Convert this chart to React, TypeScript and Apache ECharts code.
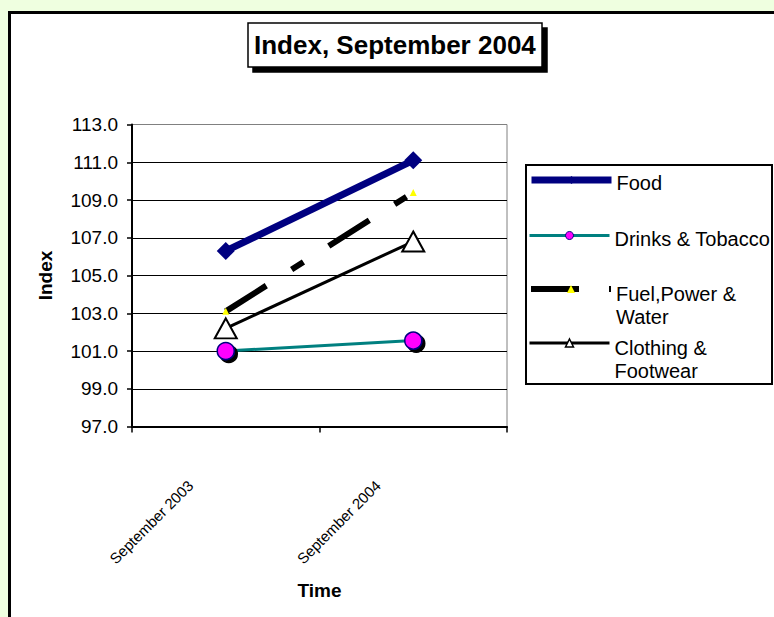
import React, { useEffect, useRef } from "react";
import * as echarts from "echarts";

const categories = ["September 2003", "September 2004"];
const food = [106.3, 111.1];
const drinksTobacco = [101.0, 101.55];
const fuelPowerWater = [103.1, 109.4];
const clothingFootwear = [102.2, 106.8];

const yMin = 97;
const yMax = 113;
const yStep = 2;

const seriesNames = ["Food", "Drinks & Tobacco", "Fuel,Power & Water", "Clothing & Footwear"];
const legendLabels = ["{s| }\nFood", "{s| }\nDrinks & Tobacco", "{g| }\nFuel,Power &\nWater", "{g| }\nClothing &\nFootwear"];

const FONT = "'Liberation Sans', Arial, Helvetica, sans-serif";

export default function App() {
  const ref = useRef<HTMLDivElement>(null);

  useEffect(() => {
    if (!ref.current) return;
    const chart = echarts.init(ref.current, undefined, { renderer: "svg" });

    const nLines = Math.round((yMax - yMin) / yStep) + 1;
    const splitColors = Array.from({ length: nLines }, (_, i) => (i === nLines - 1 ? "#808080" : "#000000"));

    const legendCommon = {
      orient: "vertical",
      left: 528,
      padding: 0,
      itemWidth: 80,
      itemHeight: 10,
      selectedMode: false,
    };
    const textCommon = {
      fontSize: 20,
      fontFamily: FONT,
      color: "#000",
      lineHeight: 23,
      rich: {
        s: { fontSize: 1, lineHeight: 6 },
        g: { fontSize: 1, lineHeight: 33 },
      },
    };

    chart.setOption({
      animation: false,
      title: {
        text: "Index, September 2004",
        left: 248,
        top: 23,
        padding: [9, 6, 9, 6],
        backgroundColor: "#ffffff",
        borderColor: "#000000",
        borderWidth: 1.5,
        shadowColor: "#000000",
        shadowBlur: 0,
        shadowOffsetX: 5,
        shadowOffsetY: 5,
        textStyle: { fontSize: 26, fontWeight: "bold", fontFamily: FONT, color: "#000" },
      },
      graphic: [
        {
          type: "rect",
          z: 0,
          shape: { x: 526, y: 165, width: 246, height: 219 },
          style: { fill: "#ffffff", stroke: "#000000", lineWidth: 2 },
        },
      ],
      legend: [
        {
          ...legendCommon,
          top: 165.5,
          data: [seriesNames[0]],
          formatter: legendLabels[0],
          lineStyle: { width: 7 },
          textStyle: textCommon,
        },
        {
          ...legendCommon,
          top: 221,
          data: [seriesNames[1]],
          formatter: legendLabels[1],
          lineStyle: { width: 3 },
          itemStyle: { borderWidth: 1 },
          textStyle: textCommon,
        },
        {
          ...legendCommon,
          top: 249.5,
          data: [seriesNames[2]],
          formatter: legendLabels[2],
          lineStyle: { width: 6 },
          textStyle: textCommon,
        },
        {
          ...legendCommon,
          top: 303.5,
          data: [seriesNames[3]],
          formatter: legendLabels[3],
          lineStyle: { width: 3 },
          itemStyle: { borderWidth: 1.5 },
          textStyle: textCommon,
        },
      ],
      grid: {
        left: 132,
        right: 267,
        top: 124.5,
        bottom: 190.5,
        show: true,
        borderColor: "#808080",
        borderWidth: 1,
        backgroundColor: "transparent",
      },
      xAxis: {
        type: "category",
        data: categories,
        boundaryGap: true,
        name: "Time",
        nameLocation: "middle",
        nameGap: 154,
        nameTextStyle: { fontSize: 19, fontWeight: "bold", fontFamily: FONT, color: "#000" },
        axisLine: { lineStyle: { color: "#000", width: 2 } },
        axisTick: { show: true, length: 6, lineStyle: { color: "#000", width: 1.5 } },
        axisLabel: {
          rotate: 45,
          margin: 21,
          interval: 0,
          fontSize: 15,
          fontFamily: FONT,
          color: "#000",
          padding: [0, 50, 0, 0],
        },
        splitLine: { show: false },
      },
      yAxis: {
        type: "value",
        min: yMin,
        max: yMax,
        interval: yStep,
        name: "Index",
        nameLocation: "middle",
        nameGap: 77,
        nameTextStyle: { fontSize: 19, fontWeight: "bold", fontFamily: FONT, color: "#000" },
        axisLine: { show: true, lineStyle: { color: "#000", width: 2 } },
        axisTick: { show: true, length: 5, lineStyle: { color: "#000", width: 1.5 } },
        axisLabel: {
          margin: 14,
          fontSize: 19,
          fontFamily: FONT,
          color: "#000",
          formatter: (v: number) => v.toFixed(1),
        },
        splitLine: { show: true, lineStyle: { color: splitColors, width: 1 } },
      },
      series: [
        {
          name: seriesNames[0],
          type: "line",
          data: food,
          symbol: "diamond",
          symbolSize: 18,
          lineStyle: { color: "#000080", width: 7 },
          itemStyle: { color: "#000080" },
          z: 5,
        },
        {
          name: seriesNames[1],
          type: "line",
          data: drinksTobacco,
          symbol: "circle",
          symbolSize: 17,
          lineStyle: { color: "#008080", width: 3 },
          itemStyle: {
            color: "#FF00FF",
            borderColor: "#000080",
            borderWidth: 1.5,
            shadowColor: "#000000",
            shadowBlur: 0,
            shadowOffsetX: 3,
            shadowOffsetY: 3,
          },
          z: 3,
        },
        {
          name: seriesNames[2],
          type: "line",
          data: fuelPowerWater,
          symbol: "triangle",
          symbolSize: 7,
          lineStyle: { color: "#000000", width: 6, type: [48, 30, 14, 30], cap: "butt" },
          itemStyle: { color: "#FFFF00" },
          z: 4,
        },
        {
          name: seriesNames[3],
          type: "line",
          data: clothingFootwear,
          symbol: "triangle",
          symbolSize: [22, 20],
          lineStyle: { color: "#000000", width: 3 },
          itemStyle: { color: "#ffffff", borderColor: "#000000", borderWidth: 2 },
          z: 4,
        },
      ],
    });

    return () => chart.dispose();
  }, []);

  return (
    <div
      style={{
        position: "fixed",
        left: 0,
        top: 0,
        width: 774,
        height: 617,
        overflow: "hidden",
        background: "#EFFFE0",
      }}
    >
      <div
        style={{
          position: "absolute",
          left: 8,
          top: 11,
          width: 900,
          height: 900,
          border: "3px solid #000",
          background: "#ffffff",
        }}
      />
      <div ref={ref} style={{ position: "absolute", left: 0, top: 0, width: 774, height: 617 }} />
    </div>
  );
}
